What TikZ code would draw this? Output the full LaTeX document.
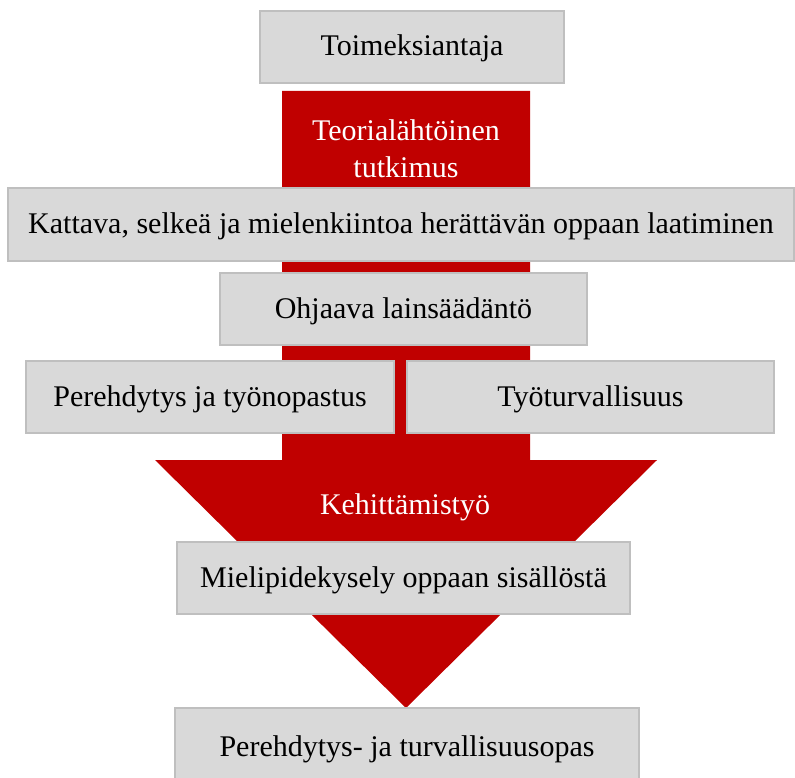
\documentclass[tikz,border=0pt]{standalone}
\usepackage{fontspec}
\setmainfont{Liberation Serif}
\definecolor{arrowred}{HTML}{C00000}
\definecolor{boxfill}{HTML}{D9D9D9}
\definecolor{boxline}{HTML}{BFBFBF}
\tikzset{
    box/.style={draw=boxline, fill=boxfill, line width=2pt, inner sep=0pt,
        text height=21pt, text depth=3pt,
        minimum height=72pt, font=\fontsize{30}{36}\selectfont},
    redtext/.style={text=white, align=center, font=\fontsize{30}{37}\selectfont}
}

\begin{document}
\begin{tikzpicture}[x=1pt, y=-1pt]
                \useasboundingbox (0,0) rectangle (795,778);
                \fill[arrowred] (282,91) -- (530,91) -- (530,460) -- (657,460)
                    -- (406,708) -- (155,460) -- (282,460) -- cycle;
                \node[box, minimum width=304pt] (toimeksiantaja) at (412,47) {Toimeksiantaja};
                \node[redtext] (teoria) at (406,149) {Teorialähtöinen\\tutkimus};
                \node[box, minimum width=786pt, minimum height=73pt] (kattava) at (401,224.5)
                    {Kattava, selkeä ja mielenkiintoa herättävän oppaan laatiminen};
                \node[box, minimum width=367pt] (ohjaava) at (403.5,309) {Ohjaava lainsäädäntö};
                \node[box, minimum width=368pt] (perehdytys) at (210,397) {Perehdytys ja työnopastus};
                \node[box, minimum width=367pt] (tyoturva) at (590.5,397) {Työturvallisuus};
                \node[redtext] (kehitys) at (405,507) {Kehittämistyö};
                \node[box, minimum width=453pt] (kysely) at (403.5,578) {Mielipidekysely oppaan sisällöstä};
                \node[box, minimum width=464pt, minimum height=78pt] (opas) at (407,747) {Perehdytys- ja turvallisuusopas};
            \end{tikzpicture}
\end{document}
